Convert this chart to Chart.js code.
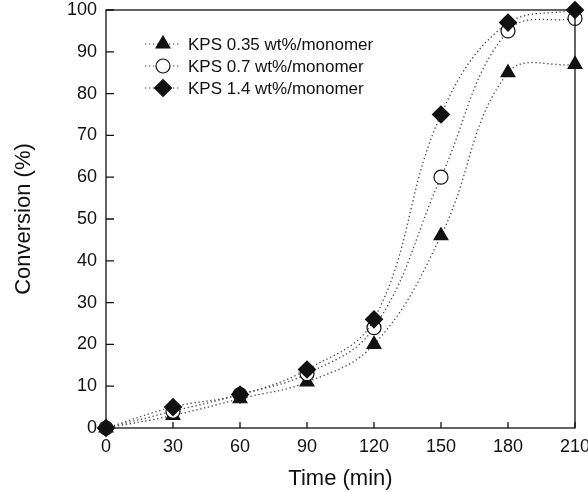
<!DOCTYPE html>
<html lang="en">
<head>
    <meta charset="UTF-8">
    <title>Conversion vs time</title>
    <script src="https://cdn.jsdelivr.net/npm/chart.js"></script>
    <style>
        html, body { margin: 0; padding: 0; background: #fff; }
        #wrap { width: 588px; height: 492px; }
    </style>
</head>
<body>
<div id="wrap"><canvas id="convChart" width="588" height="492"></canvas></div>
<script>
    // data
    const times = [0, 30, 60, 90, 120, 150, 180, 210];
    const kps035 = [0, 3, 7, 11, 20, 46, 85, 87];
    const kps07 = [0, 4, 8, 13, 24, 60, 95, 98];
    const kps14 = [0, 5, 8, 14, 26, 75, 97, 100];
    const seriesNames = ['KPS 0.35 wt%/monomer', 'KPS 0.7 wt%/monomer', 'KPS 1.4 wt%/monomer'];
    const xTicks = [0, 30, 60, 90, 120, 150, 180, 210];
    const yTicks = [0, 10, 20, 30, 40, 50, 60, 70, 80, 90, 100];

    const ink = '#111';
    const font = 'Arial, "Liberation Sans", sans-serif';

    function toPoints(ys) {
        return times.map((t, i) => ({ x: t, y: ys[i] }));
    }

    const styles = [
        { pointStyle: 'triangle', radius: 8, fill: ink },
        { pointStyle: 'circle', radius: 7, fill: '#fff' },
        { pointStyle: 'rectRot', radius: 8.5, fill: ink }
    ];

    const datasets = [kps035, kps07, kps14].map((ys, i) => ({
        label: seriesNames[i],
        data: toPoints(ys),
        borderColor: '#444',
        borderWidth: 1.3,
        borderDash: [1.3, 2.7],
        tension: 0.4,
        pointStyle: styles[i].pointStyle,
        pointRadius: styles[i].radius,
        pointBackgroundColor: styles[i].fill,
        pointBorderColor: ink,
        pointBorderWidth: 1.2,
        order: 3 - i,
        clip: false
    }));

    // frame, inward ticks and in-plot legend
    const framePlugin = {
        id: 'frame',
        afterDraw(chart) {
            const { ctx, chartArea: a, scales } = chart;
            ctx.save();
            ctx.strokeStyle = ink;
            ctx.lineWidth = 1.3;
            ctx.setLineDash([]);
            ctx.strokeRect(a.left, a.top, a.right - a.left, a.bottom - a.top);
            ctx.beginPath();
            xTicks.forEach(v => {
                const px = scales.x.getPixelForValue(v);
                ctx.moveTo(px, a.bottom);
                ctx.lineTo(px, a.bottom - 6);
            });
            yTicks.forEach(v => {
                const py = scales.y.getPixelForValue(v);
                ctx.moveTo(a.left, py);
                ctx.lineTo(a.left + 8, py);
            });
            ctx.stroke();

            // legend
            const lx = 163, ly = [44, 66, 88];
            ctx.font = '17px ' + font;
            ctx.textBaseline = 'middle';
            chart.data.datasets.forEach((ds, i) => {
                ctx.strokeStyle = '#444';
                ctx.lineWidth = 1.2;
                ctx.setLineDash([1.3, 2.7]);
                ctx.beginPath();
                ctx.moveTo(lx - 18, ly[i]);
                ctx.lineTo(lx + 16, ly[i]);
                ctx.stroke();
                ctx.setLineDash([]);
                ctx.strokeStyle = ink;
                ctx.fillStyle = styles[i].fill;
                Chart.helpers.drawPoint(ctx, {
                    pointStyle: styles[i].pointStyle,
                    radius: styles[i].radius,
                    borderWidth: 1.2,
                    rotation: 0
                }, lx, ly[i]);
                ctx.fillStyle = ink;
                ctx.fillText(ds.label, lx + 25, ly[i] + 1);
            });
            ctx.restore();
        }
    };

    new Chart(document.getElementById('convChart'), {
        type: 'line',
        data: { datasets: datasets },
        options: {
            responsive: false,
            animation: false,
            layout: { padding: { top: 10, right: 13, left: 0, bottom: 0 } },
            plugins: { legend: { display: false }, tooltip: { enabled: false } },
            scales: {
                x: {
                    type: 'linear',
                    min: 0,
                    max: 210,
                    afterBuildTicks: s => { s.ticks = xTicks.map(v => ({ value: v })); },
                    afterFit: s => { s.height = 64; s.paddingLeft = 0; s.paddingRight = 0; },
                    grid: { display: false, drawTicks: false },
                    border: { display: false },
                    ticks: { color: ink, font: { size: 18, family: font }, padding: 8, maxRotation: 0 },
                    title: { display: true, text: 'Time (min)', color: ink, font: { size: 22, family: font }, padding: { top: 0, bottom: 0 } }
                },
                y: {
                    min: 0,
                    max: 100,
                    afterBuildTicks: s => { s.ticks = yTicks.map(v => ({ value: v })); },
                    afterFit: s => { s.width = 106; s.paddingTop = 0; s.paddingBottom = 0; },
                    grid: { display: false, drawTicks: false },
                    border: { display: false },
                    ticks: { color: ink, font: { size: 18, family: font }, padding: 9 },
                    title: { display: true, text: 'Conversion (%)', color: ink, font: { size: 22, family: font }, padding: { top: 11, bottom: 0 } }
                }
            }
        },
        plugins: [framePlugin]
    });
</script>
</body>
</html>
